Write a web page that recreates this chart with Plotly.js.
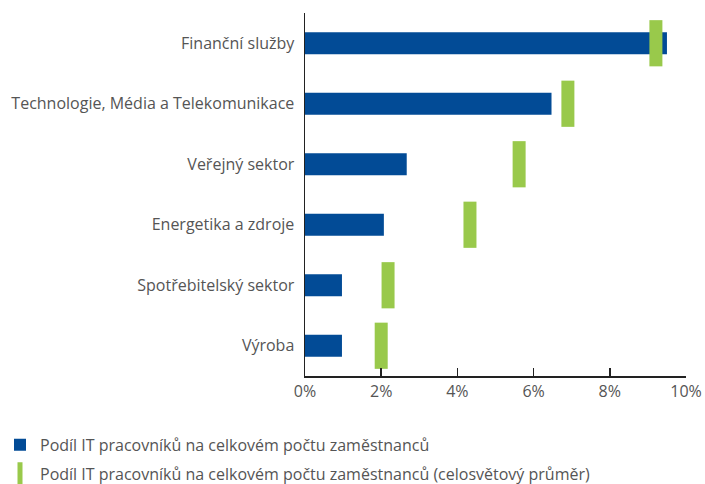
<!DOCTYPE html>
<html>
<head>
<meta charset="utf-8">
<script src="https://cdn.plot.ly/plotly-3.0.1.min.js"></script>
<style>html,body{margin:0;padding:0;background:#fff;}#chart{width:705px;height:484px;}</style>
</head>
<body>
<div id="chart"></div>
<script>
const categories = ["Finanční služby", "Technologie, Média a Telekomunikace", "Veřejný sektor", "Energetika a zdroje", "Spotřebitelský sektor", "Výroba"];
const shareIT = [9.5, 6.47, 2.67, 2.07, 0.97, 0.97];
const shareITGlobal = [9.21, 6.9, 5.62, 4.33, 2.18, 2.0];
const seriesNames = ["Podíl IT pracovníků na celkovém počtu zaměstnanců", "Podíl IT pracovníků na celkovém počtu zaměstnanců (celosvětový průměr)"];
const xTickVals = [0, 2, 4, 6, 8, 10];
const xTickText = ["0%", "2%", "4%", "6%", "8%", "10%"];

const blue = "#024b96";
const green = "#99c94b";
const font = "'Open Sans', 'Noto Sans', sans-serif";

const traces = [
  {
    type: "bar", orientation: "h", name: seriesNames[0], legendgroup: "a",
    x: shareIT, y: categories,
    marker: {color: blue}, hoverinfo: "x+y"
  },
  {
    type: "scatter", mode: "markers", name: seriesNames[1], legendgroup: "b",
    x: shareITGlobal, y: categories,
    marker: {symbol: "line-ns", size: 33, color: green, line: {color: green, width: 13}},
    hoverinfo: "x+y"
  }
];

const layout = {
  width: 705, height: 484,
  margin: {l: 305, r: 19, t: 13, b: 108, autoexpand: false},
  paper_bgcolor: "#fff", plot_bgcolor: "#fff",
  font: {family: font, color: "#555", size: 16},
  bargap: 0.636,
  showlegend: true,
  legend: {
    xref: "container", yref: "container",
    x: 0, y: 0.116, xanchor: "left", yanchor: "top",
    orientation: "v", font: {size: 16, color: "#555"},
    itemwidth: 30, traceorder: "grouped", tracegroupgap: 5
  },
  xaxis: {
    range: [0, 10], tickvals: xTickVals, ticktext: xTickText,
    showgrid: false, zeroline: false, automargin: false,
    showline: true, linecolor: "#222", linewidth: 1.5,
    ticks: "inside", ticklen: 8, tickcolor: "#222", tickwidth: 1.5,
    tickfont: {size: 16, color: "#555"}, fixedrange: true
  },
  yaxis: {
    type: "category", range: [5.5, -0.5], automargin: false,
    showgrid: false, zeroline: false,
    showline: true, linecolor: "#222", linewidth: 1.5,
    ticks: "", ticklabelstandoff: 6,
    tickfont: {size: 16, color: "#555"}, fixedrange: true
  }
};

Plotly.newPlot("chart", traces, layout, {displayModeBar: false, staticPlot: true});
</script>
</body>
</html>
